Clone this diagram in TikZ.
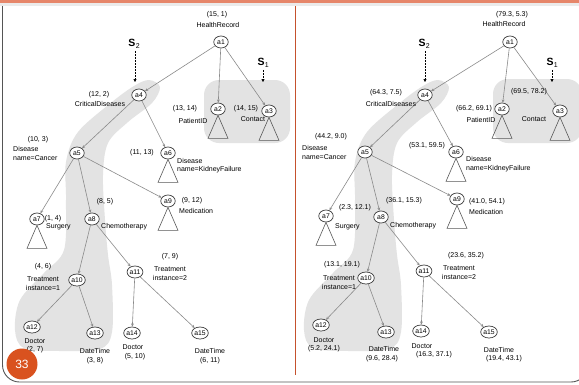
\documentclass[tikz,border=0pt]{standalone}
\usepackage{fontspec}
\setmainfont{Liberation Sans}
\usetikzlibrary{shapes.geometric,arrows.meta}
\definecolor{barorange}{HTML}{E6866A}
\definecolor{lineorange}{HTML}{C5512D}
\definecolor{pagecirc}{HTML}{D9521F}
\definecolor{shadegray}{HTML}{E3E3E3}
\definecolor{edgegray}{HTML}{8A8A8A}
\definecolor{nodeborder}{HTML}{3A3A3A}
\definecolor{framegray}{HTML}{555555}
\newcommand\lb[3]{\node[lbl] (#1) at (#2) {#3};}
\newcommand\lbw[3]{\node[lbl,anchor=west] (#1) at (#2) {#3};}
\begin{document}
\begin{tikzpicture}[x=1pt,y=-1pt,
  anode/.style={ellipse, draw=nodeborder, line width=0.7pt, fill=white, inner sep=0.2pt,
    minimum width=14.5pt, minimum height=12pt, font=\fontsize{6.8}{7}\selectfont},
  lbl/.style={font=\fontsize{7}{8}\selectfont, inner sep=0pt},
  edge/.style={draw=edgegray, line width=0.6pt, -{Stealth[length=3.2pt,width=2.8pt]}},
  subtree/.style={draw=nodeborder!85, line width=0.6pt},
  sarrow/.style={densely dotted, line width=0.5pt, -{Triangle[length=3pt,width=3pt]}},
  slbl/.style={font=\bfseries\fontsize{10.5}{10.5}\selectfont, inner sep=0pt},
  sub/.style={font=\fontsize{7}{7}\selectfont, inner sep=0pt, anchor=north west}]
\useasboundingbox (0,0) rectangle (579,384);
\fill[white] (0,0) rectangle (579,384);
% top bar
\fill[barorange] (0,0) rectangle (579,3);
\fill[black!8] (0,3) rectangle (579,6);
% frame
\draw[framegray, line width=0.9pt, rounded corners=17pt] (2.5,6) -- (2.5,382) -- (588,382) -- (588,300);
\draw[lineorange, line width=1.5pt] (295.5,6) -- (295.5,375);

% ---------------- shaded regions ----------------
\fill[shadegray] plot[smooth cycle, tension=0.55] coordinates {(134,86) (149,80) (160,87) (152,103) (128,122) (108,143) (103,175) (105,220) (108,255) (112,285) (112,332) (100,349) (60,351) (24,348) (15,330) (20,300) (44,273) (64,250) (66,200) (66,162) (78,132) (112,102)};
\fill[shadegray, rounded corners=15pt] (204,80) rectangle (290,143);
\begin{scope}[xshift=289pt]
\fill[shadegray] plot[smooth cycle, tension=0.55] coordinates {(134,86) (149,80) (160,87) (152,103) (128,122) (108,143) (103,175) (105,220) (108,255) (112,285) (112,332) (100,349) (60,351) (24,348) (15,330) (20,300) (44,273) (64,250) (66,200) (66,162) (78,132) (112,102)};
\end{scope}
\fill[shadegray, rounded corners=15pt] (493,79) rectangle (582,143);

% ---------------- left tree ----------------
\node[anode] (L-a1) at (221,42) {a1};
\node[anode] (L-a2) at (218,109) {a2};
\node[anode] (L-a3) at (269,111) {a3};
\node[anode] (L-a4) at (139,95) {a4};
\node[anode] (L-a5) at (77,153) {a5};
\node[anode] (L-a6) at (168,153) {a6};
\node[anode] (L-a7) at (37,219) {a7};
\node[anode] (L-a8) at (92,219) {a8};
\node[anode] (L-a9) at (168,201) {a9};
\node[anode] (L-a10) at (77,280) {a10};
\node[anode] (L-a11) at (135,272) {a11};
\node[anode] (L-a12) at (32,327) {a12};
\node[anode] (L-a13) at (95,333) {a13};
\node[anode] (L-a14) at (132,333) {a14};
\node[anode] (L-a15) at (200,333) {a15};
\foreach \p/\c in {a1/a4,a1/a2,a1/a3,a4/a5,a4/a6,a5/a7,a5/a8,a5/a9,a8/a10,a8/a11,a10/a12,a10/a13,a11/a14,a11/a15}
  \draw[edge] (L-\p) -- (L-\c);
\foreach \n in {a2,a3,a6,a7,a9}
  \draw[subtree] (L-\n.south) -- ++(-10,23) -- ++(20,0) -- cycle;

\lb{L-t1}{217,15}{(15, 1)}
\lb{L-t2}{218,25}{HealthRecord}
\lb{L-t3}{99,95}{(12, 2)}
\lb{L-t4}{100,104}{CriticalDiseases}
\lb{L-t5}{185,109}{(13, 14)}
\lb{L-t6}{193,121}{PatientID}
\lb{L-t7}{246,109}{(14, 15)}
\lb{L-t8}{253,119}{Contact}
\lb{L-t9}{38,140}{(10, 3)}
\lbw{L-t10}{13,149}{Disease}
\lbw{L-t11}{13,158}{name=Cancer}
\lb{L-t12}{142,153}{(11, 13)}
\lbw{L-t13}{177,161}{Disease}
\lbw{L-t14}{177,170}{name=KidneyFailure}
\lb{L-t15}{192,201}{(9, 12)}
\lbw{L-t16}{179,211}{Medication}
\lb{L-t17}{53,219}{(1, 4)}
\lbw{L-t18}{46,227}{Surgery}
\lb{L-t19}{105,202}{(8, 5)}
\lbw{L-t20}{101,227}{Chemotherapy}
\lb{L-t21}{43,267}{(4, 6)}
\lb{L-t22}{43,279}{Treatment}
\lb{L-t23}{43,288}{instance=1}
\lb{L-t24}{170,257}{(7, 9)}
\lb{L-t25}{170,269}{Treatment}
\lb{L-t26}{170,278}{instance=2}
\lb{L-t27}{35,341}{Doctor}
\lb{L-t28}{35,350}{(2, 7)}
\lb{L-t29}{95,351}{DateTime}
\lb{L-t30}{95,361}{(3, 8)}
\lb{L-t31}{133,347}{Doctor}
\lb{L-t32}{135,357}{(5, 10)}
\lb{L-t33}{210,351}{DateTime}
\lb{L-t34}{210,361}{(6, 11)}
% S labels
\node[slbl] (L-s2) at (132,43) {S};
\node[sub] (L-s2sub) at (L-s2.east) {2};
\coordinate (L-s2end) at (135,82);
\draw[sarrow] (L-s2.south -| L-s2end) ++(0,4) -- (L-s2end);
\node[slbl] (L-s1) at (261,62) {S};
\node[sub] (L-s1sub) at (L-s1.east) {1};
\coordinate (L-s1end) at (263,82);
\draw[sarrow] (L-s1.south -| L-s1end) ++(0,4) -- (L-s1end);

% ---------------- right tree ----------------
\node[anode] (R-a1) at (510,42) {a1};
\node[anode] (R-a2) at (502,109) {a2};
\node[anode] (R-a3) at (560,111) {a3};
\node[anode] (R-a4) at (425,95) {a4};
\node[anode] (R-a5) at (365,152) {a5};
\node[anode] (R-a6) at (456,152) {a6};
\node[anode] (R-a7) at (326,216) {a7};
\node[anode] (R-a8) at (381,217) {a8};
\node[anode] (R-a9) at (457,199) {a9};
\node[anode] (R-a10) at (366,278) {a10};
\node[anode] (R-a11) at (424,271) {a11};
\node[anode] (R-a12) at (321,325) {a12};
\node[anode] (R-a13) at (386,332) {a13};
\node[anode] (R-a14) at (421,331) {a14};
\node[anode] (R-a15) at (489,332) {a15};
\foreach \p/\c in {a1/a4,a1/a2,a1/a3,a4/a5,a4/a6,a5/a7,a5/a8,a5/a9,a8/a10,a8/a11,a10/a12,a10/a13,a11/a14,a11/a15}
  \draw[edge] (R-\p) -- (R-\c);
\foreach \n in {a2,a3,a6,a7,a9}
  \draw[subtree] (R-\n.south) -- ++(-10,23) -- ++(20,0) -- cycle;

\lb{R-t1}{512,15}{(79.3, 5.3)}
\lb{R-t2}{504,24}{HealthRecord}
\lb{R-t3}{386,93}{(64.3, 7.5)}
\lb{R-t4}{391,104}{CriticalDiseases}
\lb{R-t5}{474,109}{(66.2, 69.1)}
\lb{R-t6}{481,120}{PatientID}
\lb{R-t7}{529,92}{(69.5, 78.2)}
\lb{R-t8}{534,119}{Contact}
\lb{R-t9}{331,137}{(44.2, 9.0)}
\lbw{R-t10}{302,148}{Disease}
\lbw{R-t11}{302,157}{name=Cancer}
\lb{R-t12}{427,146}{(53.1, 59.5)}
\lbw{R-t13}{466,159}{Disease}
\lbw{R-t14}{466,169}{name=KidneyFailure}
\lb{R-t15}{487,202}{(41.0, 54.1)}
\lbw{R-t16}{469,212}{Medication}
\lb{R-t17}{355,208}{(2.3, 12.1)}
\lbw{R-t18}{335,227}{Surgery}
\lb{R-t19}{404,201}{(36.1, 15.3)}
\lbw{R-t20}{390,226}{Chemotherapy}
\lb{R-t21}{342,265}{(13.1, 19.1)}
\lb{R-t22}{339,278}{Treatment}
\lb{R-t23}{339,287}{instance=1}
\lb{R-t24}{466,256}{(23.6, 35.2)}
\lb{R-t25}{459,268}{Treatment}
\lb{R-t26}{459,277}{instance=2}
\lb{R-t27}{324,340}{Doctor}
\lb{R-t28}{324,349}{(5.2, 24.1)}
\lb{R-t29}{384,349}{DateTime}
\lb{R-t30}{382,359}{(9.6, 28.4)}
\lb{R-t31}{422,346}{Doctor}
\lb{R-t32}{434,355}{(16.3, 37.1)}
\lb{R-t33}{499,350}{DateTime}
\lb{R-t34}{504,359}{(19.4, 43.1)}
\node[slbl] (R-s2) at (422,43) {S};
\node[sub] (R-s2sub) at (R-s2.east) {2};
\coordinate (R-s2end) at (425,82);
\draw[sarrow] (R-s2.south -| R-s2end) ++(0,4) -- (R-s2end);
\node[slbl] (R-s1) at (550,62) {S};
\node[sub] (R-s1sub) at (R-s1.east) {1};
\coordinate (R-s1end) at (552,82);
\draw[sarrow] (R-s1.south -| R-s1end) ++(0,4) -- (R-s1end);

% page number
\node[circle, fill=pagecirc, minimum size=31pt, inner sep=0pt, text=white,
  font=\fontsize{12}{12}\selectfont] (pg) at (22,364) {33};
\end{tikzpicture}
\end{document}
